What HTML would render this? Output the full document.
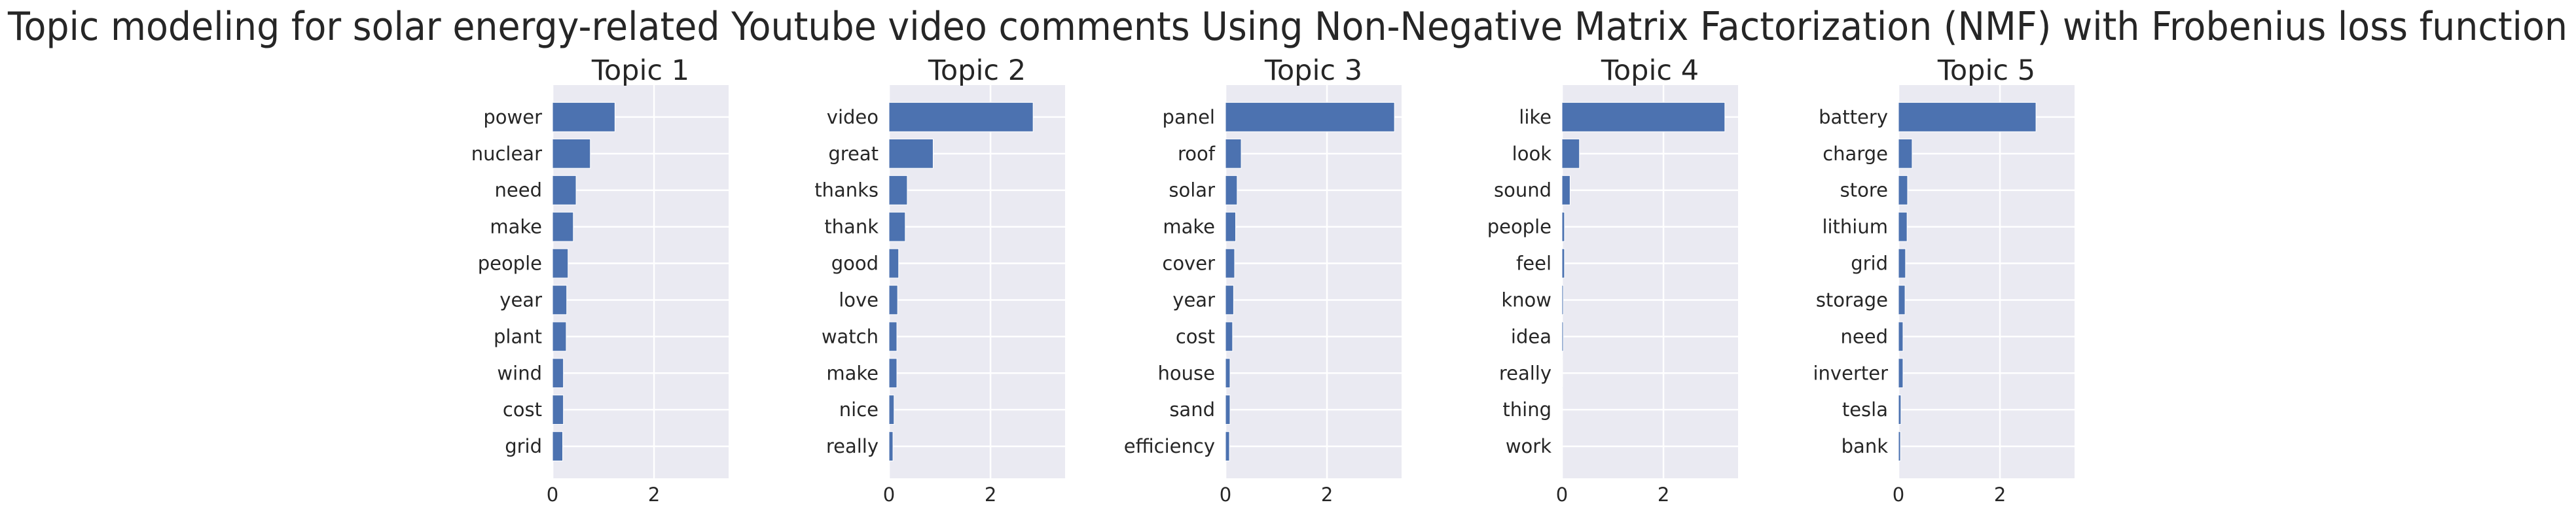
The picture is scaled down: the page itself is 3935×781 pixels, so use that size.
<!DOCTYPE html>
<html><head><meta charset="utf-8"><style>
html,body{margin:0;padding:0;background:#fff;}
svg{display:block;font-family:"DejaVu Sans","Liberation Sans",sans-serif;}
</style></head><body>
<svg id="chart" width="3935" height="781" viewBox="0 0 3935 781">
<text x="12" y="61" font-size="60" fill="#262626" textLength="3910" lengthAdjust="spacingAndGlyphs">Topic modeling for solar energy-related Youtube video comments Using Non-Negative Matrix Factorization (NMF) with Frobenius loss function</text>
</svg>
<script>
const topicTitles = ["Topic 1","Topic 2","Topic 3","Topic 4","Topic 5"];
const words1 = ["power","nuclear","need","make","people","year","plant","wind","cost","grid"];
const values1 = [1.23,0.745,0.465,0.41,0.306,0.28,0.27,0.215,0.215,0.20];
const words2 = ["video","great","thanks","thank","good","love","watch","make","nice","really"];
const values2 = [2.84,0.87,0.36,0.32,0.19,0.17,0.155,0.155,0.10,0.078];
const words3 = ["panel","roof","solar","make","cover","year","cost","house","sand","efficiency"];
const values3 = [3.33,0.31,0.23,0.20,0.18,0.16,0.14,0.09,0.09,0.078];
const words4 = ["like","look","sound","people","feel","know","idea","really","thing","work"];
const values4 = [3.21,0.345,0.16,0.05,0.05,0.026,0.026,0.013,0.01,0.005];
const words5 = ["battery","charge","store","lithium","grid","storage","need","inverter","tesla","bank"];
const values5 = [2.71,0.27,0.18,0.17,0.14,0.13,0.09,0.09,0.05,0.04];
const xTicks = [0,2];
const xMax = 3.47;

const allWords = [words1,words2,words3,words4,words5];
const allValues = [values1,values2,values3,values4,values5];
const NS = "http://www.w3.org/2000/svg";
const svg = document.getElementById('chart');
function mk(tag, attrs, parent){
  const e = document.createElementNS(NS, tag);
  for (const k in attrs) e.setAttribute(k, attrs[k]);
  parent.appendChild(e);
  return e;
}
const axTop = 130, axBottom = 731, axW = 269;
const panelLeft0 = 844, panelStep = 514;
const yMin = -0.875, yMax = 9.875;
for (let p = 0; p < 5; p++) {
  const left = panelLeft0 + p * panelStep;
  const xs = v => left + v / xMax * axW;
  const ys = i => axTop + (i - yMin) / (yMax - yMin) * (axBottom - axTop);
  const g = mk('g', {}, svg);
  
  
  const bg = mk('rect', {x: left, y: axTop, width: axW, height: axBottom - axTop, fill: '#eaeaf2'}, g);
  
  
  xTicks.forEach(t => {
    const gl = mk('line', {x1: xs(t), x2: xs(t), y1: axTop, y2: axBottom, stroke: '#fff', 'stroke-width': 2.5}, g);
    
    
    const tl = mk('text', {x: xs(t), y: 766, 'font-size': 29, fill: '#262626', 'text-anchor': 'middle'}, g);
    tl.textContent = t;
    
    
  });
  const words = allWords[p], vals = allValues[p];
  words.forEach((w, i) => {
    const gl = mk('line', {x1: left, x2: left + axW, y1: ys(i), y2: ys(i), stroke: '#fff', 'stroke-width': 2.5}, g);
    
    
  });
  words.forEach((w, i) => {
    const h = 0.8 * (ys(1) - ys(0));
    const bar = mk('rect', {x: xs(0), y: ys(i) - h / 2, width: Math.max(0, xs(vals[i]) - xs(0)), height: h, fill: '#4c72b0', stroke: '#fff', 'stroke-width': 1}, g);
    
    
    const lab = mk('text', {x: left - 16, y: ys(i) + 10, 'font-size': 29, fill: '#262626', 'text-anchor': 'end'}, g);
    lab.textContent = w;
    
    
  });
  const tt = mk('text', {x: left + axW / 2, y: 122, 'font-size': 43, fill: '#262626', 'text-anchor': 'middle'}, g);
  tt.textContent = topicTitles[p];
  
  
}
</script>
</body></html>
